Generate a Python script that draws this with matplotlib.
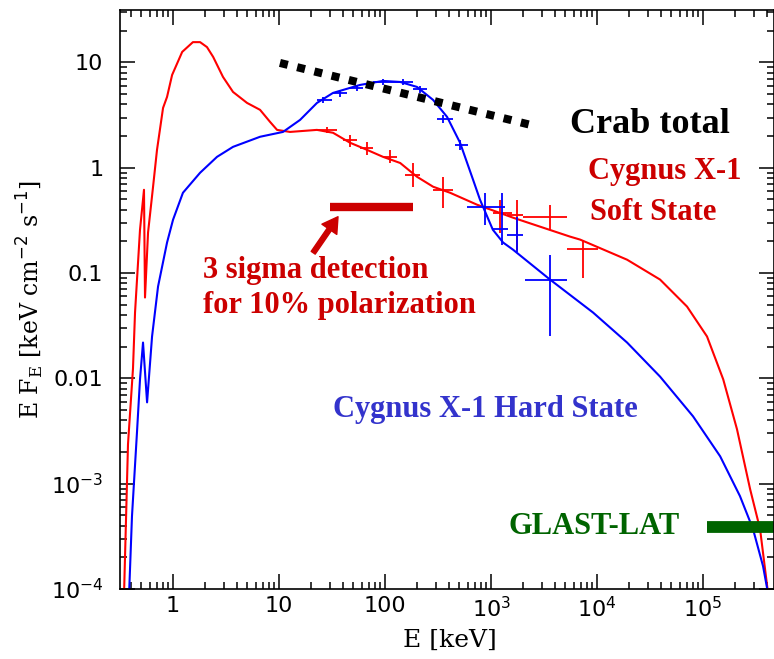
import numpy as np
import matplotlib
matplotlib.use("Agg")
import matplotlib.pyplot as plt

plt.rcParams["mathtext.fontset"] = "dejavusans"

# Cygnus X-1 soft state model (E in keV, E F_E)
soft_E = [0.345, 0.376, 0.419, 0.438, 0.488, 0.532, 0.544, 0.581, 0.648, 0.706,
          0.805, 0.878, 0.98, 1.22, 1.54, 1.80, 2.09, 2.39, 2.96, 3.68,
          4.99, 6.62, 8.22, 9.58, 12.7, 22.8, 32.3, 46.7, 67.6, 95.7,
          139, 200, 284, 411, 738, 1610, 5560, 6920, 19200, 39300,
          70600, 1.09e5, 1.55e5, 2.09e5, 2.78e5, 3.45e5, 4.11e5]
soft_F = [9e-5, 2.37e-3, 0.0124, 0.0422, 0.258, 0.618, 0.0586, 0.242, 0.661, 1.48,
          3.70, 4.71, 7.61, 12.6, 15.6, 15.6, 14.0, 11.3, 7.29, 5.25,
          4.13, 3.55, 2.73, 2.29, 2.19, 2.29, 2.15, 1.73, 1.48, 1.27,
          1.11, 0.822, 0.661, 0.579, 0.446, 0.336, 0.222, 0.208, 0.134, 0.0868,
          0.0481, 0.0250, 9.79e-3, 3.29e-3, 8.87e-4, 3.71e-4, 9e-5]

# Cygnus X-1 hard state model
hard_E = [0.385, 0.410, 0.457, 0.488, 0.521, 0.569, 0.634, 0.722, 0.878, 1.0,
          1.24, 1.80, 2.60, 3.68, 6.62, 10.9, 15.8, 22.8, 32.3, 58.1,
          95.7, 139, 200, 284, 385, 510, 677, 787, 1040, 1300,
          1610, 3600, 9170, 19200, 39300, 80500, 1.45e5, 2.23e5, 2.96e5, 3.68e5,
          4.11e5]
hard_F = [9e-5, 4.92e-4, 3.08e-3, 9.79e-3, 0.0219, 5.92e-3, 0.0250, 0.0745, 0.195, 0.321,
          0.579, 0.897, 1.27, 1.58, 1.97, 2.19, 2.85, 4.13, 5.14, 6.12,
          6.68, 6.53, 5.86, 4.41, 3.04, 1.73, 0.769, 0.497, 0.258, 0.195,
          0.167, 0.0868, 0.0422, 0.0219, 0.0104, 4.36e-3, 1.82e-3, 7.62e-4, 3.71e-4, 1.65e-4,
          9e-5]

# measured points with error bars
soft_pts_E = [28.4, 46.7, 67.6, 111, 184, 352, 1216, 1758, 3600, 7380]
soft_pts_Elo = [22.8, 40.1, 58.1, 95.7, 154, 284, 1045, 1415, 2003, 5210]
soft_pts_Ehi = [35.3, 54.4, 77.1, 130, 214, 438, 1578, 2003, 5210, 10200]
soft_pts_F = [2.29, 1.84, 1.55, 1.27, 0.858, 0.618, 0.375, 0.359, 0.343, 0.171]
soft_pts_Flo = [2.15, 1.58, 1.33, 1.11, 0.661, 0.418, 0.242, 0.167, 0.258, 0.0906]
soft_pts_Fhi = [2.45, 2.05, 1.76, 1.48, 1.11, 0.822, 0.497, 0.497, 0.446, 0.208]

hard_pts_E = [26.0, 37.6, 54.4, 95.7, 148, 214, 352, 510, 878, 1270, 1758, 3600]
hard_pts_Elo = [22.8, 32.3, 46.7, 77.1, 119, 184, 309, 458, 594, 1045, 1415, 2093]
hard_pts_Ehi = [31.6, 43.8, 62.0, 119, 184, 249, 438, 607, 1355, 1445, 2003, 5210]
hard_pts_F = [4.41, 5.14, 5.73, 6.53, 6.53, 5.61, 2.91, 1.65, 0.427, 0.264, 0.232, 0.0868]
hard_pts_Flo = [4.13, 4.71, 5.37, 6.12, 6.12, 5.14, 2.67, 1.48, 0.288, 0.186, 0.160, 0.025]
hard_pts_Fhi = [4.71, 5.49, 6.12, 6.98, 6.98, 5.99, 3.18, 1.84, 0.579, 0.579, 0.343, 0.150]

# Crab total, polarization sensitivity and GLAST-LAT markers
crab_E = [10.2, 2340]
crab_F = [9.9, 2.56]
pol_E = [30.3, 183]
pol_F = [0.42, 0.42]
glast_E = [1.1e5, 1e6]
glast_F = [3.9e-4, 3.9e-4]

xticks = [1, 10, 100, 1e3, 1e4, 1e5]
xlabels = ["1", "10", "100", r"$\mathregular{10^3}$", r"$\mathregular{10^4}$", r"$\mathregular{10^5}$"]
yticks = [1e-4, 1e-3, 0.01, 0.1, 1, 10]
ylabels = [r"$\mathregular{10^{-4}}$", r"$\mathregular{10^{-3}}$", "0.01", "0.1", "1", "10"]

dark_red = "#cc0000"

fig = plt.figure(figsize=(7.74, 6.59), dpi=100)
ax = fig.add_axes([120 / 774, 70 / 659, 654 / 774, 579 / 659])
ax.set_xscale("log")
ax.set_yscale("log")
ax.set_xlim(0.316, 4.67e5)
ax.set_ylim(1e-4, 31.5)

ax.plot(soft_E, soft_F, color="red", lw=1.5)
ax.plot(hard_E, hard_F, color="blue", lw=1.5)

s_E = np.array(soft_pts_E); s_F = np.array(soft_pts_F)
ax.errorbar(s_E, s_F,
            xerr=[s_E - np.array(soft_pts_Elo), np.array(soft_pts_Ehi) - s_E],
            yerr=[s_F - np.array(soft_pts_Flo), np.array(soft_pts_Fhi) - s_F],
            fmt="none", ecolor="red", elinewidth=1.3, capsize=0)
h_E = np.array(hard_pts_E); h_F = np.array(hard_pts_F)
ax.errorbar(h_E, h_F,
            xerr=[h_E - np.array(hard_pts_Elo), np.array(hard_pts_Ehi) - h_E],
            yerr=[h_F - np.array(hard_pts_Flo), np.array(hard_pts_Fhi) - h_F],
            fmt="none", ecolor="blue", elinewidth=1.3, capsize=0)

ax.plot(crab_E, crab_F, color="black", lw=5.8, dashes=(1, 1.2), dash_capstyle="butt")
ax.plot(pol_E, pol_F, color=dark_red, lw=6, solid_capstyle="butt")
ax.plot(glast_E, glast_F, color="#006400", lw=8.5, solid_capstyle="butt")

ax.annotate("", xy=(36, 0.343), xytext=(21, 0.156),
            arrowprops=dict(width=3.5, headwidth=13, headlength=11, color=dark_red))

tfont = dict(family="Liberation Serif", weight="bold", fontsize=22)
ax.text(5560, 2.56, "Crab total", color="black", va="center", ha="left",
        family="Liberation Serif", weight="bold", fontsize=26)
ax.text(8220, 0.916, "Cygnus X-1", color=dark_red, va="center", ha="left", **tfont)
ax.text(8590, 0.375, "Soft State", color=dark_red, va="center", ha="left", **tfont)
ax.text(1.92, 0.105, "3 sigma detection", color=dark_red, va="center", ha="left", **tfont)
ax.text(1.92, 0.049, "for 10% polarization", color=dark_red, va="center", ha="left", **tfont)
ax.text(32.3, 5.1e-3, "Cygnus X-1 Hard State", color="#3333cc", va="center", ha="left", **tfont)
ax.text(1450, 3.95e-4, "GLAST-LAT", color="#006400", va="center", ha="left", **tfont)

ax.set_xticks(xticks)
ax.set_xticklabels(xlabels)
ax.set_yticks(yticks)
ax.set_yticklabels(ylabels)
ax.tick_params(which="both", direction="in", top=True, right=True, width=1.1,
               labelsize=16, color="black")
ax.tick_params(which="major", length=11)
ax.tick_params(which="minor", length=5)
ax.tick_params(axis="y", pad=12)
ax.tick_params(axis="x", pad=5)
for lab in ax.get_xticklabels() + ax.get_yticklabels():
    lab.set_family("DejaVu Sans")
for sp in ax.spines.values():
    sp.set_linewidth(1.2)

fig.text(450 / 774, 1 - 640 / 659, "E [keV]", ha="center", va="center",
         family="DejaVu Serif", fontsize=18)
fig.text(30 / 774, 1 - 300 / 659, r"E F$_{\mathregular{E}}$ [keV cm$^{-2}$ s$^{-1}$]",
         ha="center", va="center", rotation=90, family="DejaVu Serif", fontsize=17)

fig.savefig("out.png", dpi=100)
